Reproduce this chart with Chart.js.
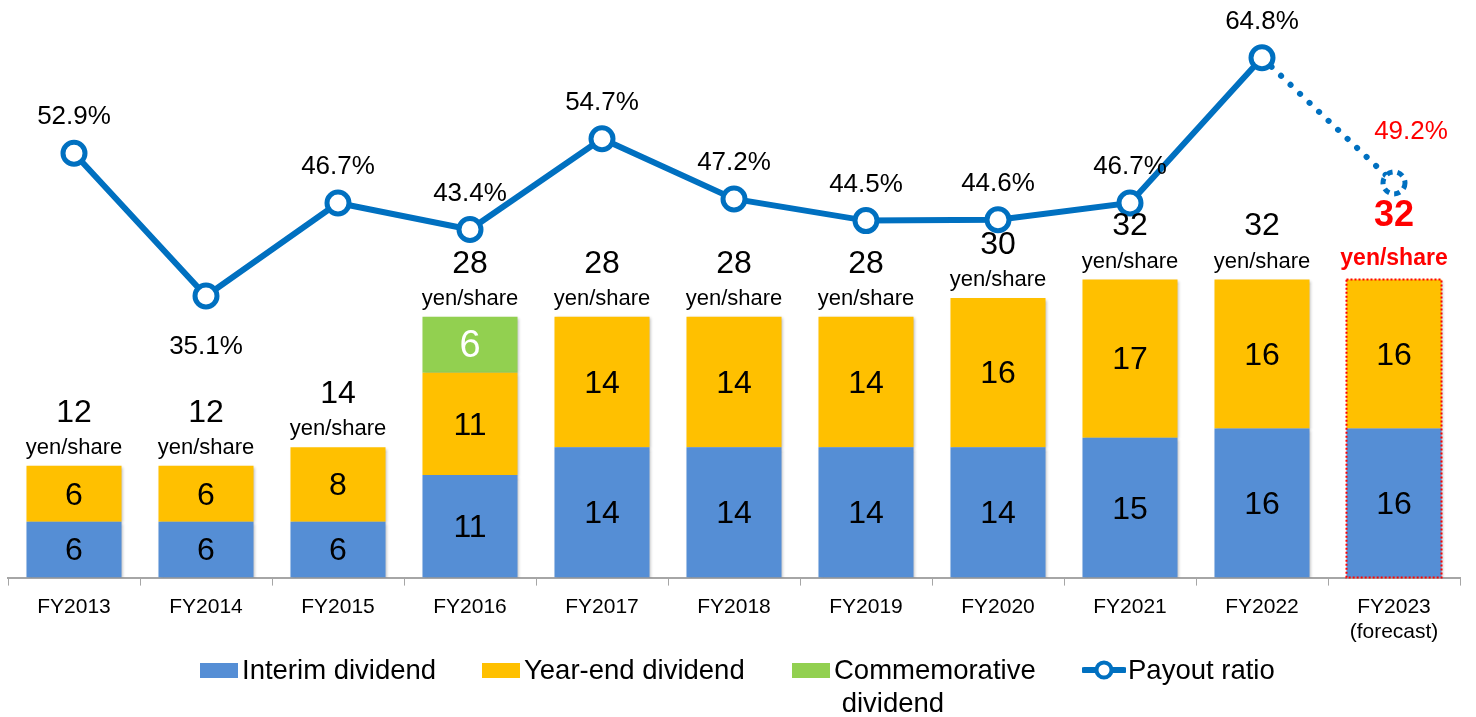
<!DOCTYPE html>
<html>
<head>
<meta charset="utf-8">
<script src="https://cdn.jsdelivr.net/npm/chart.js@4.4.0/dist/chart.umd.min.js"></script>
<style>
  body { margin: 0; background: #fff; font-family: "Liberation Sans", Arial, sans-serif; overflow: hidden; }
  #wrap { position: relative; width: 1476px; height: 717px; overflow: hidden; }
  #canvasBox { position: absolute; left: 0; top: 0; width: 1476px; height: 717px; }
  #legend { position: absolute; left: 0; top: 653px; width: 1476px; height: 64px; }
  .item { position: absolute; top: 0; display: flex; align-items: flex-start; font-size: 27.5px; line-height: 33px; color: #000; }
  .box { width: 38px; height: 15px; margin-top: 10px; margin-right: 4px; }
</style>
</head>
<body>
<div id="wrap">
  <div id="canvasBox"><canvas id="divChart"></canvas></div>
  <div id="legend"></div>
</div>
<script>
// dividend data (yen/share) and payout ratio (%)
const categories = ['FY2013', 'FY2014', 'FY2015', 'FY2016', 'FY2017', 'FY2018', 'FY2019', 'FY2020', 'FY2021', 'FY2022', ['FY2023', '(forecast)']];
const interim = [6, 6, 6, 11, 14, 14, 14, 14, 15, 16, 16];
const yearEnd = [6, 6, 8, 11, 14, 14, 14, 16, 17, 16, 16];
const commemorative = [null, null, null, 6, null, null, null, null, null, null, null];
const payoutRatio = [52.9, 35.1, 46.7, 43.4, 54.7, 47.2, 44.5, 44.6, 46.7, 64.8, 49.2];

const forecastIndex = categories.length - 1;
const totals = interim.map((v, i) => v + yearEnd[i] + (commemorative[i] || 0));

const BLUE = '#558ED5', YELLOW = '#FFC000', GREEN = '#92D050', LINE = '#0070C0';
const FONT = '"Liberation Sans", Arial, sans-serif';

// soft shadow under the bars, like the original
const shadowPlugin = {
    id: 'barShadow',
    beforeDatasetDraw(chart, args) {
        if (args.meta.type !== 'bar') return;
        const c = chart.ctx;
        c.save();
        c.shadowColor = 'rgba(0, 0, 0, 0.28)';
        c.shadowBlur = 3;
        c.shadowOffsetX = 1.5;
        c.shadowOffsetY = 1.5;
    },
    afterDatasetDraw(chart, args) {
        if (args.meta.type !== 'bar') return;
        chart.ctx.restore();
    }
};

// labels on bars, totals, percentages, forecast styling
const labelPlugin = {
    id: 'labels',
    afterDatasetsDraw(chart) {
        const c = chart.ctx;
        c.save();
        c.textAlign = 'center';
        c.textBaseline = 'middle';

        // red dotted frame round the forecast bar
        const bottomBar = chart.getDatasetMeta(0).data[forecastIndex];
        const topBar = chart.getDatasetMeta(1).data[forecastIndex];
        const half = bottomBar.width / 2;
        c.strokeStyle = '#FF0000';
        c.lineWidth = 2;
        c.setLineDash([2, 2]);
        c.strokeRect(bottomBar.x - half, topBar.y, half * 2, bottomBar.base - topBar.y);
        c.setLineDash([]);

        // values inside the bar segments
        [0, 1, 2].forEach(ds => {
            const meta = chart.getDatasetMeta(ds);
            const values = chart.data.datasets[ds].data;
            meta.data.forEach((bar, i) => {
                if (!values[i]) return;
                const white = ds === 2;
                c.fillStyle = white ? '#fff' : '#000';
                c.font = (white ? '38px ' : '32px ') + FONT;
                c.fillText(values[i], bar.x, (bar.y + bar.base) / 2 + 2);
            });
        });

        // totals above the stacks
        const topMeta = chart.getDatasetMeta(1);
        topMeta.data.forEach((bar, i) => {
            const top = Math.min(bar.y, chart.getDatasetMeta(2).data[i].y || bar.y);
            if (i === forecastIndex) {
                c.fillStyle = '#FF0000';
                c.font = 'bold 36px ' + FONT;
                c.fillText(totals[i], bar.x, top - 63);
                c.font = 'bold 23px ' + FONT;
                c.fillText('yen/share', bar.x, top - 21);
            } else {
                c.fillStyle = '#000';
                c.font = '32px ' + FONT;
                c.fillText(totals[i], bar.x, top - 53);
                c.font = '22px ' + FONT;
                c.fillText('yen/share', bar.x, top - 18);
            }
        });

        // payout ratio labels
        const lineMeta = chart.getDatasetMeta(3);
        lineMeta.data.forEach((pt, i) => {
            let dx = 0, dy = -36;
            if (i === 1) dy = 51;
            c.fillStyle = '#000';
            if (i === forecastIndex) { dx = 17; dy = -51; c.fillStyle = '#FF0000'; }
            c.font = '26px ' + FONT;
            c.fillText(payoutRatio[i].toFixed(1) + '%', pt.x + dx, pt.y + dy);
        });

        // dashed marker for the forecast point
        const last = lineMeta.data[forecastIndex];
        c.beginPath();
        c.arc(last.x, last.y, 11, 0, Math.PI * 2);
        c.fillStyle = '#fff';
        c.fill();
        c.strokeStyle = LINE;
        c.lineWidth = 5;
        c.setLineDash([6, 5]);
        c.stroke();
        c.restore();
    }
};

const ctx = document.getElementById('divChart').getContext('2d');
const divChart = new Chart(ctx, {
    type: 'bar',
    data: {
        labels: categories,
        datasets: [
            { label: 'Interim dividend', data: interim, backgroundColor: BLUE, order: 2, yAxisID: 'y' },
            { label: 'Year-end dividend', data: yearEnd, backgroundColor: YELLOW, order: 2, yAxisID: 'y' },
            { label: 'Commemorative dividend', data: commemorative, backgroundColor: GREEN, order: 2, yAxisID: 'y' },
            {
                type: 'line', label: 'Payout ratio', data: payoutRatio, yAxisID: 'y1', order: 1,
                borderColor: LINE, borderWidth: 6, borderCapStyle: 'round',
                pointRadius: payoutRatio.map((v, i) => i === forecastIndex ? 0 : 11),
                pointBorderWidth: 5, pointBackgroundColor: '#fff', pointBorderColor: LINE,
                segment: {
                    borderDash: s => s.p1DataIndex === forecastIndex ? [0.1, 13] : undefined
                }
            }
        ]
    },
    options: {
        responsive: true,
        maintainAspectRatio: false,
        animation: false,
        layout: { autoPadding: false, padding: { left: 8, right: 16, top: 0, bottom: 63 } },
        plugins: { legend: { display: false }, tooltip: { enabled: false } },
        datasets: { bar: { categoryPercentage: 1, barPercentage: 0.72 } },
        scales: {
            x: {
                stacked: true,
                grid: { display: true, drawOnChartArea: false, offset: true, tickLength: 8, color: '#A6A6A6' },
                border: { color: '#A6A6A6', width: 2 },
                ticks: { color: '#000', font: { family: FONT, size: 21 }, padding: 9, maxRotation: 0 }
            },
            y: { stacked: true, display: false, min: 0, max: 62 },
            y1: { display: false, min: 0, max: 72 }
        }
    },
    plugins: [shadowPlugin, labelPlugin]
});

// legend below the chart, built from the datasets
const legend = document.getElementById('legend');
const legendX = [200, 482, 792, 1082];
divChart.data.datasets.forEach((ds, i) => {
    const item = document.createElement('div');
    item.className = 'item';
    item.style.left = legendX[i] + 'px';
    if (ds.type === 'line') {
        item.innerHTML = '<svg width="44" height="33" style="margin-right:2px"><line x1="2" y1="17" x2="42" y2="17" stroke="' + LINE + '" stroke-width="6" stroke-linecap="round"/><circle cx="22" cy="17" r="7.5" fill="#fff" stroke="' + LINE + '" stroke-width="4"/></svg><span>' + ds.label + '</span>';
    } else {
        const text = ds.label === 'Commemorative dividend' ? 'Commemorative<br>&nbsp;dividend' : ds.label;
        item.innerHTML = '<div class="box" style="background:' + ds.backgroundColor + '"></div><span>' + text + '</span>';
    }
    legend.appendChild(item);
});
</script>
</body>
</html>
